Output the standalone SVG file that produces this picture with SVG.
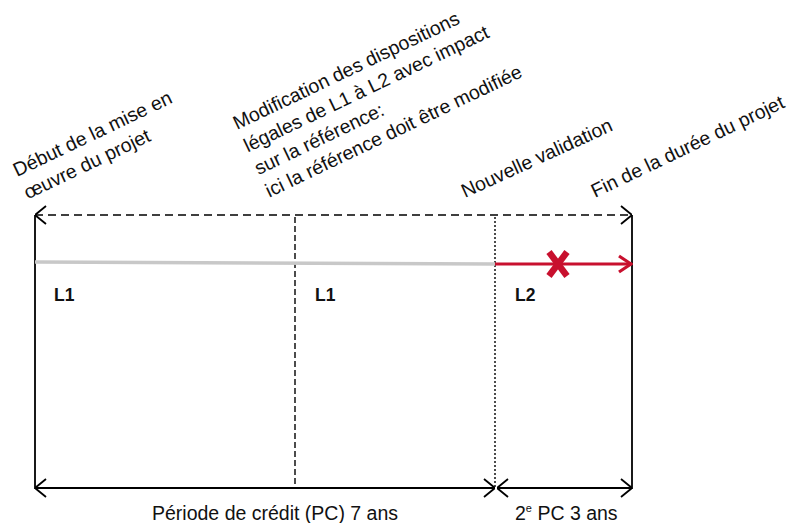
<svg xmlns="http://www.w3.org/2000/svg" width="797" height="523" viewBox="0 0 797 523">
  <defs>
    <marker id="open" viewBox="0 0 12 20" refX="12" refY="10" markerWidth="12" markerHeight="20" markerUnits="userSpaceOnUse" orient="auto-start-reverse">
      <path d="M1,1 L12,10 L1,19" fill="none" stroke="#000" stroke-width="1.8"/>
    </marker>
    <marker id="redhead" viewBox="0 0 16 20" refX="15" refY="10" markerWidth="16" markerHeight="20" markerUnits="userSpaceOnUse" orient="auto">
      <path d="M2,2 L14,10 L2,18" fill="none" stroke="#c8102e" stroke-width="3.2"/>
    </marker>
    <style>
      .lbl { font-family: "Liberation Sans", Arial, sans-serif; font-size: 19.5px; fill: #111; }
      .seg { font-family: "Liberation Sans", Arial, sans-serif; font-size: 17.5px; font-weight: bold; fill: #111; }
      .dur { font-family: "Liberation Sans", Arial, sans-serif; font-size: 19.5px; fill: #111; }
      .solid { stroke: #000; stroke-width: 1.8; fill: none; }
    </style>
  </defs>

  <!-- timeline frame and dividers -->
  <g id="frame">
    <line class="solid" x1="35" y1="215" x2="35" y2="489"/>
    <line class="solid" x1="632" y1="215" x2="632" y2="489"/>
    <line x1="295" y1="217" x2="295" y2="487" stroke="#000" stroke-width="1.4" stroke-dasharray="6,3"/>
    <line x1="495" y1="217" x2="495" y2="487" stroke="#000" stroke-width="1.4" stroke-dasharray="2,2"/>
  </g>

  <!-- connectors -->
  <g id="connectors">
    <line x1="35" y1="215" x2="632" y2="215" stroke="#000" stroke-width="1.6" stroke-dasharray="8,5" marker-start="url(#open)" marker-end="url(#open)"/>
    <line x1="35" y1="262" x2="495" y2="264" stroke="#c8c8c8" stroke-width="3.5"/>
    <line x1="495" y1="264" x2="632" y2="264" stroke="#c8102e" stroke-width="3" marker-end="url(#redhead)"/>
    <line class="solid" x1="35" y1="488" x2="495" y2="488" marker-start="url(#open)" marker-end="url(#open)"/>
    <line class="solid" x1="497" y1="488" x2="632" y2="488" marker-start="url(#open)" marker-end="url(#open)"/>
  </g>

  <!-- cross on the L2 segment -->
  <g id="cross" stroke="#c8102e" stroke-width="6.5" stroke-linecap="butt">
    <line x1="549" y1="252" x2="567" y2="276"/>
    <line x1="567" y1="252" x2="549" y2="276"/>
  </g>

  <!-- segment labels -->
  <g id="segments">
    <text class="seg" x="54" y="301">L1</text>
    <text class="seg" x="315" y="301">L1</text>
    <text class="seg" x="515" y="301">L2</text>
  </g>

  <!-- milestone captions -->
  <g id="start-label">
    <text class="lbl" transform="translate(17,177) rotate(-25.5)"><tspan x="0" y="0">Début de la mise en</tspan><tspan x="0" y="25">œuvre du projet</tspan></text>
  </g>
  <g id="change-label">
    <text class="lbl" transform="translate(237,130) rotate(-25.5)"><tspan x="0" y="0">Modification des dispositions</tspan><tspan x="0" y="25">légales de L1 à L2 avec impact</tspan><tspan x="0" y="50">sur la référence:</tspan><tspan x="0" y="75">ici la référence doit être modifiée</tspan></text>
  </g>
  <g id="validation-label">
    <text class="lbl" transform="translate(465,198) rotate(-24.5)">Nouvelle validation</text>
  </g>
  <g id="end-label">
    <text class="lbl" transform="translate(595,198) rotate(-25.5)">Fin de la durée du projet</text>
  </g>

  <!-- duration captions -->
  <g id="durations">
    <text class="dur" x="152" y="520">Période de crédit (PC) 7 ans</text>
    <text class="dur" x="515" y="520">2<tspan font-size="11" dy="-8">e</tspan><tspan dy="8"> PC 3 ans</tspan></text>
  </g>
</svg>
